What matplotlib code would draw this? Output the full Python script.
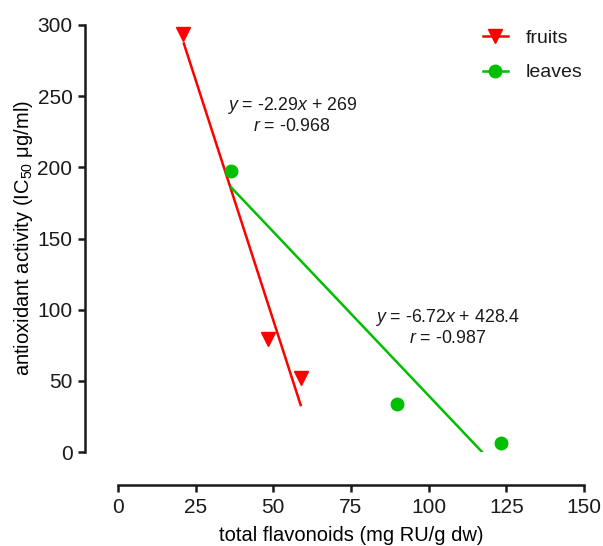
import numpy as np
import matplotlib
matplotlib.use("Agg")
import matplotlib.pyplot as plt

plt.rcParams["font.family"] = ["Liberation Sans", "DejaVu Sans"]
plt.rcParams["mathtext.fontset"] = "custom"
plt.rcParams["mathtext.rm"] = "Liberation Sans"
plt.rcParams["mathtext.it"] = "Liberation Sans:italic"
plt.rcParams["text.color"] = "#1a1a1a"

# measured points
fruits_x = [20.9, 48.3, 58.9]
fruits_y = [293.5, 79.4, 52.0]
leaves_x = [36.4, 89.8, 123.3]
leaves_y = [197.5, 33.7, 6.0]

# regression lines as drawn (end points)
fruits_fit_x = [21.2, 58.8]
fruits_fit_y = [287.0, 33.0]
leaves_fit_x = [36.4, 117.2]
leaves_fit_y = [186.0, 0.0]

red = "#FF0000"
green = "#00BF00"

fig = plt.figure(figsize=(6.03, 5.46), dpi=100)
ax = fig.add_axes([118/603, (546-452)/546, (584-118)/603, (452-25)/546])

ax.plot(fruits_fit_x, fruits_fit_y, color=red, lw=1.8)
ax.plot(leaves_fit_x, leaves_fit_y, color=green, lw=1.8)
ax.plot(fruits_x, fruits_y, "v", color=red, ms=10, clip_on=False)
ax.plot(leaves_x, leaves_y, "o", color=green, ms=9, clip_on=False)

# legend handles: marker with line
ax.plot([], [], "-v", color=red, ms=10, lw=1.8, label="fruits")
ax.plot([], [], "-o", color=green, ms=9, lw=1.8, label="leaves")
ax.legend(loc="upper left", bbox_to_anchor=(0.745, 1.03), frameon=False,
          fontsize=14, handlelength=1.3, handletextpad=0.9, labelspacing=0.85)

ax.text(56, 237, "$\\mathit{y}$ = -2.29$\\mathit{x}$ + 269\n$\\mathit{r}$ = -0.968",
        ha="center", va="center", fontsize=12.8, multialignment="center", linespacing=1.15)
ax.text(106, 88, "$\\mathit{y}$ = -6.72$\\mathit{x}$ + 428.4\n$\\mathit{r}$ = -0.987",
        ha="center", va="center", fontsize=12.8, multialignment="center", linespacing=1.15)

ax.set_xlim(0, 150)
ax.set_ylim(0, 300)
ax.set_xticks([0, 25, 50, 75, 100, 125, 150])
ax.set_yticks([0, 50, 100, 150, 200, 250, 300])

ax.spines[["top", "right"]].set_visible(False)
ax.spines["left"].set_position(("outward", 23.8))
ax.spines["bottom"].set_position(("outward", 23.8))
for s in ["left", "bottom"]:
    ax.spines[s].set_linewidth(1.8)
    ax.spines[s].set_color("#1a1a1a")
ax.tick_params(width=1.8, length=5, labelsize=15, pad=4, colors="#1a1a1a")

ax.set_xlabel("total flavonoids (mg RU/g dw)", fontsize=14.5, labelpad=7)
ax.set_ylabel("antioxidant activity (IC$_{50}$ \u03bcg/ml)", fontsize=14.5, labelpad=2)

fig.savefig("out.png", dpi=100)
